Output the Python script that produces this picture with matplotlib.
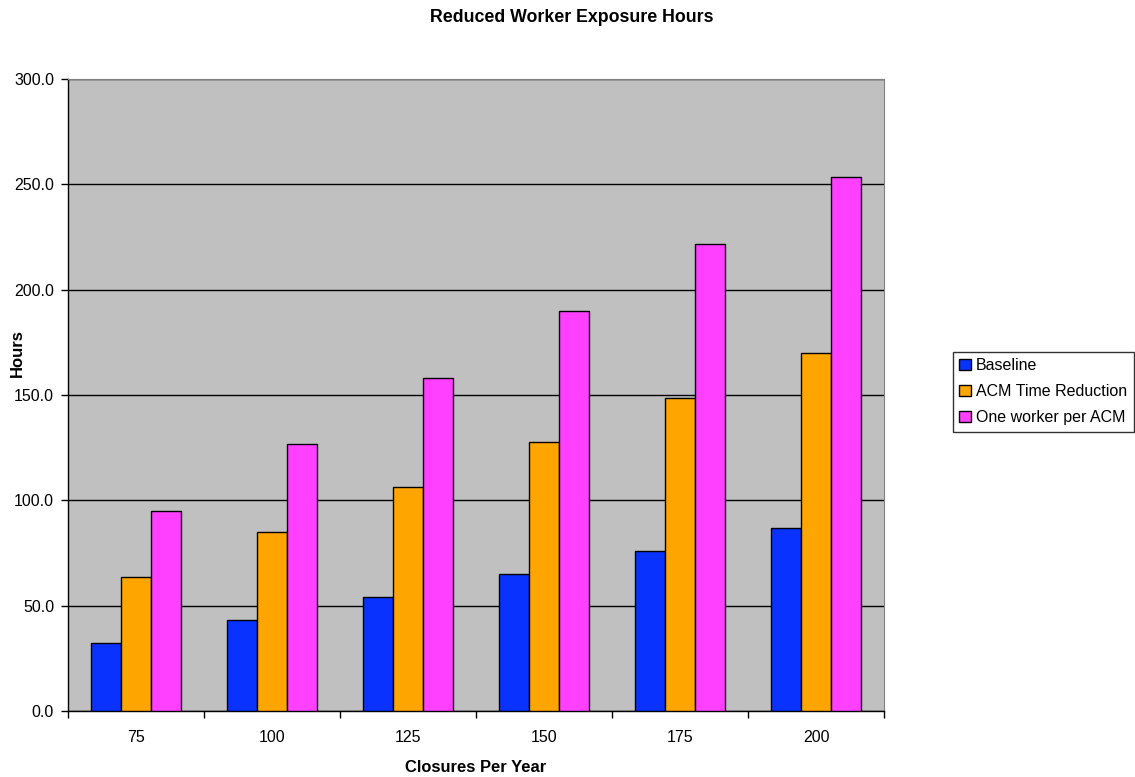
import numpy as np
import matplotlib
matplotlib.use('Agg')
import matplotlib.pyplot as plt
from matplotlib.ticker import FixedLocator, FormatStrFormatter

plt.rcParams['font.family'] = ['Liberation Sans', 'DejaVu Sans']

# closures per year and exposure hours per scenario
closures = ['75', '100', '125', '150', '175', '200']
baseline = [32.5, 43.3, 54.2, 65.0, 75.8, 86.7]
acm_reduction = [63.8, 85.0, 106.3, 127.5, 148.8, 170.0]
one_worker = [95.0, 126.7, 158.3, 190.0, 221.7, 253.3]

series = [
    ('Baseline', baseline, '#0A32FF'),
    ('ACM Time Reduction', acm_reduction, '#FFA500'),
    ('One worker per ACM', one_worker, '#FF40FF'),
]

fig = plt.figure(figsize=(11.35, 7.77), dpi=100)
ax = fig.add_axes([68 / 1135, 1 - 711 / 777, 816 / 1135, 632 / 777])
ax.set_facecolor('#C0C0C0')

x = np.arange(len(closures))
width = 1 / 4.5
for i, (name, vals, color) in enumerate(series):
    ax.bar(x + (i - 1) * width, vals, width, color=color, edgecolor='black',
           linewidth=1.0, label=name, zorder=3)

ax.set_xlim(-0.5, len(closures) - 0.5)
ax.set_ylim(0, 300)
ax.yaxis.set_major_locator(FixedLocator(np.arange(0, 301, 50)))
ax.yaxis.set_major_formatter(FormatStrFormatter('%.1f'))
ax.grid(axis='y', color='black', linewidth=1.0, zorder=1)

# category labels centered, tick marks on the boundaries
ax.set_xticks(x)
ax.set_xticklabels(closures)
ax.set_xticks(np.arange(-0.5, len(closures)), minor=True)
ax.tick_params(axis='x', which='major', length=0, pad=14, labelsize=11.5)
ax.tick_params(axis='x', which='minor', length=5, width=1, color='black')
ax.tick_params(axis='y', length=5, width=1, pad=5, labelsize=11.5)

for side in ['top', 'right']:
    ax.spines[side].set_color('#808080')
for side in ['left', 'bottom']:
    ax.spines[side].set_color('black')
    ax.spines[side].set_linewidth(1.0)

fig.text(572 / 1135, 1 - 18 / 777, 'Reduced Worker Exposure Hours',
         ha='center', va='center', fontsize=12.8, fontweight='bold')
fig.text(476 / 1135, 1 - 768 / 777, 'Closures Per Year',
         ha='center', va='center', fontsize=11.9, fontweight='bold')
fig.text(17 / 1135, 1 - 353 / 777, 'Hours', rotation=90,
         ha='center', va='center', fontsize=12, fontweight='bold')

leg = fig.legend(loc='upper left', bbox_to_anchor=(953 / 1135, 1 - 352 / 777),
                 fontsize=11.5, frameon=True, fancybox=False, edgecolor='black',
                 handlelength=0.7, handleheight=0.7, handletextpad=0.35,
                 borderpad=0.4, labelspacing=0.68, borderaxespad=0)
leg.get_frame().set_linewidth(1.0)

fig.savefig('out.png', dpi=100)
